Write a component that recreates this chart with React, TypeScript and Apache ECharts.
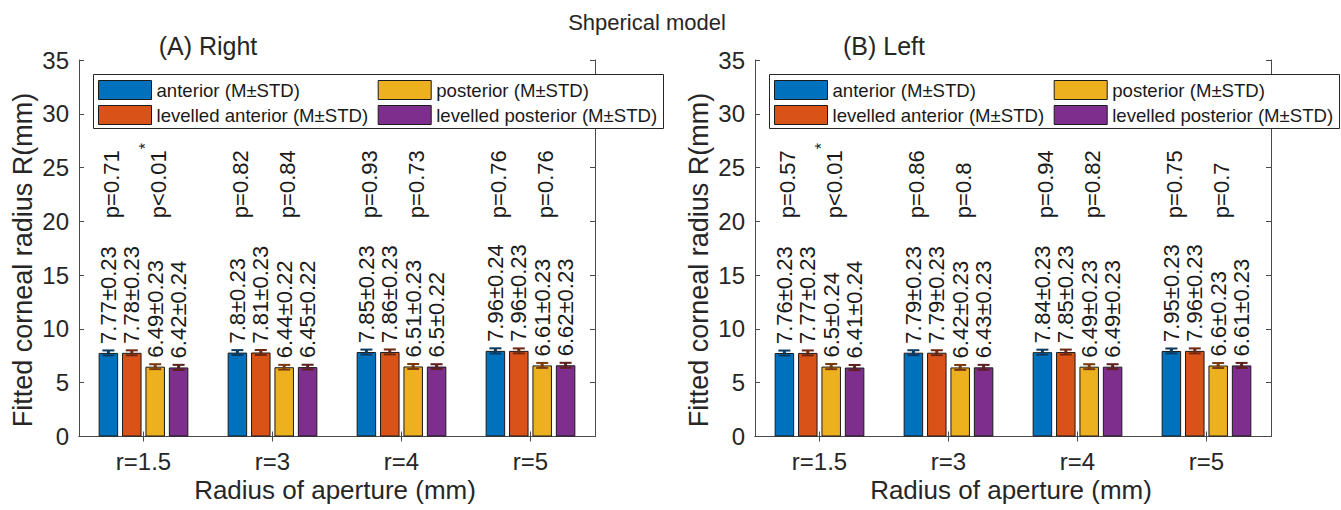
import React, { useEffect, useRef } from 'react';
import * as echarts from 'echarts';

// ---------------- data ----------------
const categories = ['r=1.5', 'r=3', 'r=4', 'r=5'];
const seriesNames = [
  'anterior (M±STD)',
  'levelled anterior (M±STD)',
  'posterior (M±STD)',
  'levelled posterior (M±STD)',
];
const legendColumns = [
  [seriesNames[0], seriesNames[1]],
  [seriesNames[2], seriesNames[3]],
];

// (A) Right eye
const rightAnterior = [7.77, 7.8, 7.85, 7.96];
const rightAnteriorStd = [0.23, 0.23, 0.23, 0.24];
const rightLevAnterior = [7.78, 7.81, 7.86, 7.96];
const rightLevAnteriorStd = [0.23, 0.23, 0.23, 0.23];
const rightPosterior = [6.49, 6.44, 6.51, 6.61];
const rightPosteriorStd = [0.23, 0.22, 0.23, 0.23];
const rightLevPosterior = [6.42, 6.45, 6.5, 6.62];
const rightLevPosteriorStd = [0.24, 0.22, 0.22, 0.23];
const rightPAnterior = ['p=0.71', 'p=0.82', 'p=0.93', 'p=0.76'];
const rightPPosterior = ['p<0.01', 'p=0.84', 'p=0.73', 'p=0.76'];
const rightSigAnterior = [false, false, false, false];
const rightSigPosterior = [true, false, false, false];

// (B) Left eye
const leftAnterior = [7.76, 7.79, 7.84, 7.95];
const leftAnteriorStd = [0.23, 0.23, 0.23, 0.23];
const leftLevAnterior = [7.77, 7.79, 7.85, 7.96];
const leftLevAnteriorStd = [0.23, 0.23, 0.23, 0.23];
const leftPosterior = [6.5, 6.42, 6.49, 6.6];
const leftPosteriorStd = [0.24, 0.23, 0.23, 0.23];
const leftLevPosterior = [6.41, 6.43, 6.49, 6.61];
const leftLevPosteriorStd = [0.24, 0.23, 0.23, 0.23];
const leftPAnterior = ['p=0.57', 'p=0.86', 'p=0.94', 'p=0.75'];
const leftPPosterior = ['p<0.01', 'p=0.8', 'p=0.82', 'p=0.7'];
const leftSigAnterior = [false, false, false, false];
const leftSigPosterior = [true, false, false, false];

const yTickMin = 0;
const yTickMax = 35;
const yTickStep = 5;

// ---------------- style ----------------
const FONT = 'Arial, "Liberation Sans", Helvetica, sans-serif';
const COLORS = ['#0072BD', '#D95319', '#EDB120', '#7E2F8E'];
const ERR_COLORS = ['#0b3a5e', '#6e2812', '#7a3a0e', '#5c2020'];
const AXIS_COLOR = '#4a4a4a';
const TEXT_COLOR = '#262626';
const GRID_LEFTS = [79, 755];
const GRID_TOP = 60;
const GRID_W = 516;
const GRID_H = 376.5;
const BAR_W = 19.5;
const BAR_GAP = 0.2;
const PITCH = BAR_W * (1 + BAR_GAP);
const P_LABEL_Y = 20.3;
const PANEL_SHIFT = GRID_LEFTS[1] - GRID_LEFTS[0];
const LEGEND_BOX = { x: 93, y: 74, w: 570, h: 54 };
const LEGEND_COL_X = [98, 377.7];

const panels = [
  {
    title: '(A) Right',
    means: [rightAnterior, rightLevAnterior, rightPosterior, rightLevPosterior],
    stds: [rightAnteriorStd, rightLevAnteriorStd, rightPosteriorStd, rightLevPosteriorStd],
    pAnt: rightPAnterior,
    pPost: rightPPosterior,
    sigAnt: rightSigAnterior,
    sigPost: rightSigPosterior,
  },
  {
    title: '(B) Left',
    means: [leftAnterior, leftLevAnterior, leftPosterior, leftLevPosterior],
    stds: [leftAnteriorStd, leftLevAnteriorStd, leftPosteriorStd, leftLevPosteriorStd],
    pAnt: leftPAnterior,
    pPost: leftPPosterior,
    sigAnt: leftSigAnterior,
    sigPost: leftSigPosterior,
  },
];

let measureCtx: CanvasRenderingContext2D | null = null;
function measure(text: string, size: number): number {
  if (!measureCtx) measureCtx = document.createElement('canvas').getContext('2d');
  if (!measureCtx) return text.length * size * 0.55;
  measureCtx.font = `${size}px ${FONT}`;
  return measureCtx.measureText(text).width;
}

function buildOption() {
  const grid: any[] = [];
  const xAxis: any[] = [];
  const yAxis: any[] = [];
  const series: any[] = [];
  const legend: any[] = [];
  const graphic: any[] = [];

  graphic.push({
    type: 'text',
    x: 647,
    y: 22,
    style: {
      text: 'Shperical model',
      fontSize: 22,
      fontFamily: FONT,
      fill: TEXT_COLOR,
      align: 'center',
      textAlign: 'center',
      verticalAlign: 'middle',
      textVerticalAlign: 'middle',
    },
  });

  panels.forEach((panel, g) => {
    const shift = g * PANEL_SHIFT;
    grid.push({ left: GRID_LEFTS[g], top: GRID_TOP, width: GRID_W, height: GRID_H, containLabel: false });

    const xBottom = xAxis.length;
    xAxis.push({
      type: 'category',
      gridIndex: g,
      data: categories,
      position: 'bottom',
      axisLine: { show: true, lineStyle: { color: AXIS_COLOR, width: 1 } },
      axisTick: { show: true, inside: true, alignWithLabel: true, length: 5, lineStyle: { color: AXIS_COLOR } },
      axisLabel: { fontSize: 24, color: TEXT_COLOR, margin: 13, fontFamily: FONT },
      splitLine: { show: false },
    });
    xAxis.push({
      type: 'category',
      gridIndex: g,
      data: categories,
      position: 'top',
      axisLine: { show: true, lineStyle: { color: AXIS_COLOR, width: 1 } },
      axisTick: { show: true, inside: true, alignWithLabel: true, length: 5, lineStyle: { color: AXIS_COLOR } },
      axisLabel: { show: false },
      splitLine: { show: false },
    });
    const yLeft = yAxis.length;
    yAxis.push({
      type: 'value',
      gridIndex: g,
      min: yTickMin,
      max: yTickMax,
      interval: yTickStep,
      position: 'left',
      axisLine: { show: true, lineStyle: { color: AXIS_COLOR, width: 1 } },
      axisTick: { show: true, inside: true, length: 5, lineStyle: { color: AXIS_COLOR } },
      axisLabel: { fontSize: 24, color: TEXT_COLOR, margin: 10, fontFamily: FONT },
      splitLine: { show: false },
    });
    yAxis.push({
      type: 'value',
      gridIndex: g,
      min: yTickMin,
      max: yTickMax,
      interval: yTickStep,
      position: 'right',
      axisLine: { show: true, lineStyle: { color: AXIS_COLOR, width: 1 } },
      axisTick: { show: true, inside: true, length: 5, lineStyle: { color: AXIS_COLOR } },
      axisLabel: { show: false },
      splitLine: { show: false },
    });

    // bars
    seriesNames.forEach((name, k) => {
      const stds = panel.stds[k];
      series.push({
        type: 'bar',
        name,
        xAxisIndex: xBottom,
        yAxisIndex: yLeft,
        data: panel.means[k],
        barWidth: BAR_W,
        barGap: `${BAR_GAP * 100}%`,
        itemStyle: { color: COLORS[k], borderColor: '#1a1a1a', borderWidth: 1 },
        label: {
          show: true,
          position: 'top',
          rotate: 90,
          align: 'left',
          verticalAlign: 'middle',
          distance: 9,
          fontSize: 22,
          fontFamily: FONT,
          color: '#1a1a1a',
          formatter: (p: any) => `${p.value}±${stds[p.dataIndex]}`,
        },
        z: 2,
      });
    });

    // error bars
    seriesNames.forEach((name, k) => {
      const means = panel.means[k];
      const stds = panel.stds[k];
      series.push({
        type: 'custom',
        name: name + ' err',
        xAxisIndex: xBottom,
        yAxisIndex: yLeft,
        silent: true,
        z: 4,
        data: means.map((m, i) => [i, m, stds[i]]),
        renderItem: (params: any, api: any) => {
          const i = api.value(0);
          const m = api.value(1);
          const s = api.value(2);
          const top = api.coord([i, m + s]);
          const bot = api.coord([i, m - s]);
          const x = top[0] + (k - 1.5) * PITCH;
          const cap = 6;
          const c = ERR_COLORS[k];
          return {
            type: 'group',
            children: [
              { type: 'line', shape: { x1: x, y1: top[1], x2: x, y2: bot[1] }, style: { stroke: c, lineWidth: 3 } },
              { type: 'line', shape: { x1: x - cap, y1: top[1], x2: x + cap, y2: top[1] }, style: { stroke: c, lineWidth: 2 } },
              { type: 'line', shape: { x1: x - cap, y1: bot[1], x2: x + cap, y2: bot[1] }, style: { stroke: c, lineWidth: 2 } },
            ],
          };
        },
      });
    });

    // p-value annotations
    const pSets = [
      { labels: panel.pAnt, sig: panel.sigAnt, barIdx: 0 },
      { labels: panel.pPost, sig: panel.sigPost, barIdx: 2 },
    ];
    pSets.forEach((ps, j) => {
      series.push({
        type: 'custom',
        name: `p${g}${j}`,
        xAxisIndex: xBottom,
        yAxisIndex: yLeft,
        silent: true,
        z: 5,
        data: categories.map((_, i) => [i, P_LABEL_Y]),
        renderItem: (params: any, api: any) => {
          const i = api.value(0);
          const pt = api.coord([i, api.value(1)]);
          const x = pt[0] + (ps.barIdx - 1.5) * PITCH + 3;
          const text = ps.labels[params.dataIndex];
          const children: any[] = [
            {
              type: 'text',
              x: 0,
              y: 0,
              style: {
                text,
                fontSize: 22,
                fontFamily: FONT,
                fill: '#1a1a1a',
                align: 'left',
                textAlign: 'left',
                verticalAlign: 'middle',
                textVerticalAlign: 'middle',
              },
            },
          ];
          if (ps.sig[params.dataIndex]) {
            children.push({
              type: 'text',
              x: measure(text, 22) + 1,
              y: -13,
              style: {
                text: '*',
                fontSize: 16,
                fontFamily: FONT,
                fill: '#1a1a1a',
                align: 'left',
                textAlign: 'left',
                verticalAlign: 'middle',
                textVerticalAlign: 'middle',
              },
            });
          }
          return { type: 'group', x, y: pt[1], rotation: Math.PI / 2, children };
        },
      });
    });

    // legend box (frame) + two legend columns
    graphic.push({
      type: 'rect',
      z: 20,
      shape: { x: LEGEND_BOX.x + shift + 0.5, y: LEGEND_BOX.y + 0.5, width: LEGEND_BOX.w, height: LEGEND_BOX.h },
      style: { fill: '#ffffff', stroke: '#262626', lineWidth: 1 },
      silent: true,
    });
    legendColumns.forEach((col, c) => {
      legend.push({
        data: col,
        left: LEGEND_COL_X[c] + shift,
        top: LEGEND_BOX.y + 6,
        orient: 'vertical',
        icon: 'rect',
        itemWidth: 53,
        itemHeight: 19,
        itemGap: 5,
        padding: 0,
        selectedMode: false,
        itemStyle: { borderColor: '#1a1a1a', borderWidth: 1 },
        textStyle: { fontSize: 18.6, color: '#1a1a1a', fontFamily: FONT },
        z: 30,
        zlevel: 0,
      });
    });

    graphic.push({
      type: 'text',
      x: 208 + shift,
      y: 46,
      style: {
        text: panel.title,
        fontSize: 25,
        fontFamily: FONT,
        fill: TEXT_COLOR,
        align: 'center',
        textAlign: 'center',
        verticalAlign: 'middle',
        textVerticalAlign: 'middle',
      },
    });
    graphic.push({
      type: 'text',
      x: 23 + shift,
      y: 260,
      rotation: Math.PI / 2,
      style: {
        text: 'Fitted corneal radius R(mm)',
        fontSize: 27,
        fontFamily: FONT,
        fill: TEXT_COLOR,
        align: 'center',
        textAlign: 'center',
        verticalAlign: 'middle',
        textVerticalAlign: 'middle',
      },
    });
    graphic.push({
      type: 'text',
      x: 335 + shift,
      y: 490,
      style: {
        text: 'Radius of aperture (mm)',
        fontSize: 26,
        fontFamily: FONT,
        fill: TEXT_COLOR,
        align: 'center',
        textAlign: 'center',
        verticalAlign: 'middle',
        textVerticalAlign: 'middle',
      },
    });
  });

  return {
    animation: false,
    backgroundColor: '#ffffff',
    textStyle: { fontFamily: FONT },
    grid,
    xAxis,
    yAxis,
    series,
    legend,
    graphic,
  };
}

export default function App() {
  const ref = useRef<HTMLDivElement>(null);
  useEffect(() => {
    if (!ref.current) return;
    const chart = echarts.init(ref.current, undefined, { renderer: 'svg' });
    chart.setOption(buildOption() as any);
    return () => chart.dispose();
  }, []);
  return (
    <div
      ref={ref}
      style={{ position: 'absolute', left: 0, top: 0, width: 1341, height: 510, background: '#fff' }}
    />
  );
}
